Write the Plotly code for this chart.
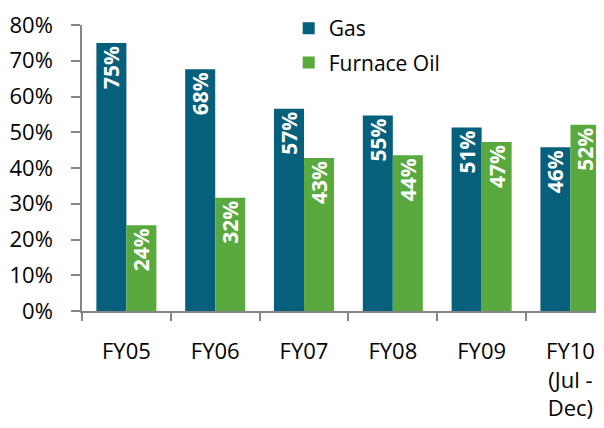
import plotly.graph_objects as go

categories = ["FY05", "FY06", "FY07", "FY08", "FY09", "FY10<br>(Jul -<br>Dec)"]
gas = [75, 67.6, 56.6, 54.7, 51.3, 45.8]
furnace_oil = [24, 31.7, 42.8, 43.6, 47.3, 52.1]
y_ticks = [0, 10, 20, 30, 40, 50, 60, 70, 80]
y_tick_labels = [f"{v}%" for v in y_ticks]

GAS_COLOR = "#06607B"
OIL_COLOR = "#59A93E"
FONT = "Open Sans"

fig = go.Figure()
for name, vals, color, grp in [("Gas", gas, GAS_COLOR, "g1"), ("Furnace Oil", furnace_oil, OIL_COLOR, "g2")]:
    fig.add_trace(go.Bar(
        name=name, x=categories, y=vals, marker_color=color, marker_line_width=0,
        legendgroup=grp,
        texttemplate="<b>%{y:.0f}%</b>", textposition="inside", insidetextanchor="end",
        textangle=-90, textfont=dict(family=FONT, size=21, color="white"),
        cliponaxis=False,
    ))

fig.update_layout(
    width=604, height=428,
    margin=dict(l=74, r=0, t=16, b=125),
    paper_bgcolor="white", plot_bgcolor="white",
    barmode="group", bargap=0.324, bargroupgap=0,
    font=dict(family=FONT, size=22, color="black"),
    uniformtext=dict(mode="show", minsize=21),
    legend=dict(x=0.39, y=1.06, xanchor="left", yanchor="top",
                font=dict(family=FONT, size=21, color="black"),
                bgcolor="rgba(0,0,0,0)", tracegroupgap=4, traceorder="grouped"),
    showlegend=True,
)
fig.update_xaxes(
    range=[-0.5, 5.468], showline=True, linecolor="#868686", linewidth=1.5,
    ticks="outside", tickson="boundaries", ticklen=8, tickcolor="#868686", tickwidth=1.5,
    ticklabelstandoff=20, showgrid=False, zeroline=False, fixedrange=True,
    tickfont=dict(family=FONT, size=22, color="black"),
)
fig.update_yaxes(
    range=[0, 80], tickvals=y_ticks, ticktext=y_tick_labels, showline=True, linecolor="#868686",
    linewidth=1.5, ticks="outside", ticklen=9, tickcolor="#868686", tickwidth=1.5,
    ticklabelstandoff=14, showgrid=False, zeroline=False,
    tickfont=dict(family=FONT, size=22, color="black"),
)

fig.write_html("out.html")
